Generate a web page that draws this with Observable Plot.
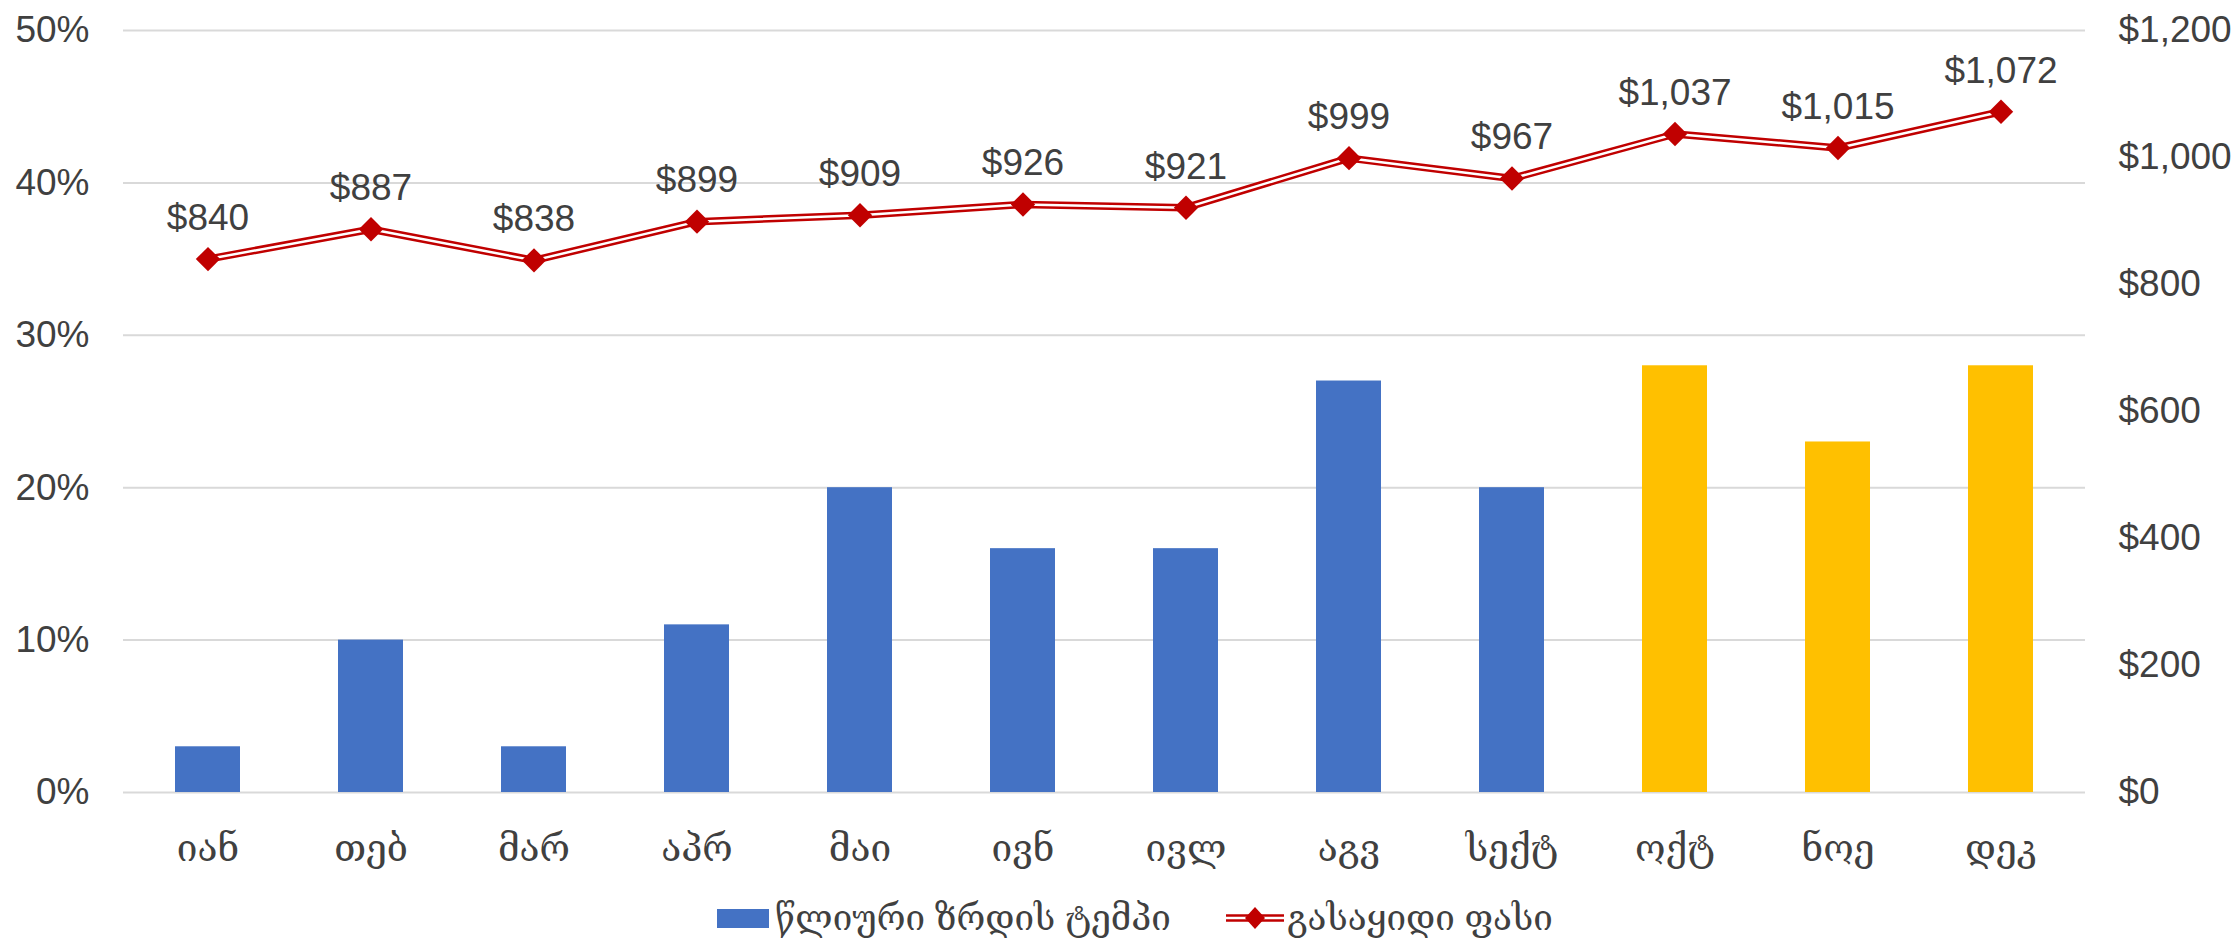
<!DOCTYPE html>
<html>
<head>
<meta charset="utf-8">
<script src="https://cdn.jsdelivr.net/npm/d3@7"></script>
<script src="https://cdn.jsdelivr.net/npm/@observablehq/plot@0.6"></script>
<style>
  html, body { margin: 0; padding: 0; background: #fff; }
  #wrap { position: relative; width: 2236px; height: 945px; font-family: "Liberation Sans", "DejaVu Serif", sans-serif; }
  #legend { position: absolute; left: 717px; top: 898px; display: flex; align-items: center; font-size: 35px; color: #404040; font-family: "Liberation Sans", "DejaVu Serif", sans-serif; }
  .item { display: flex; align-items: center; }
</style>
</head>
<body>
<div id="wrap">
  <div id="chart"></div>
  <div id="legend"></div>
</div>
<script>
const months = ["იან", "თებ", "მარ", "აპრ", "მაი", "ივნ", "ივლ", "აგვ", "სექტ", "ოქტ", "ნოე", "დეკ"];
const growth = [3, 10, 3, 11, 20, 16, 16, 27, 20, 28, 23, 28];           // %
const price = [840, 887, 838, 899, 909, 926, 921, 999, 967, 1037, 1015, 1072]; // $
const forecast = [false, false, false, false, false, false, false, false, false, true, true, true];
const leftTicks = [0, 10, 20, 30, 40, 50];
const rightTicks = [0, 200, 400, 600, 800, 1000, 1200];
const seriesNames = ["წლიური ზრდის ტემპი", "გასაყიდი ფასი"];

const PCT_MAX = 50, PRICE_MAX = 1200;
const toPct = v => v * PCT_MAX / PRICE_MAX;
const fmt$ = v => "$" + d3.format(",")(v);

const data = months.map((m, i) => ({ month: m, growth: growth[i], price: price[i], forecast: forecast[i] }));

const textColor = "#404040";
const FS = 37;
const chart = Plot.plot({
  width: 2236,
  height: 880,
  marginTop: 30,
  marginBottom: 88,
  marginLeft: 123,
  marginRight: 151,
  style: { fontFamily: "Liberation Sans, DejaVu Serif, sans-serif", fontSize: FS + "px", color: textColor, background: "#fff" },
  x: { domain: months, paddingInner: 0.6, paddingOuter: 0.3 },
  y: { domain: [0, PCT_MAX] },
  marks: [
    Plot.gridY(leftTicks, { stroke: "#d9d9d9", strokeOpacity: 1, strokeWidth: 2 }),
    Plot.barY(data, { x: "month", y: "growth", fill: d => d.forecast ? "#FFC000" : "#4472C4" }),
    Plot.axisY({ anchor: "left", ticks: leftTicks, tickFormat: d => d + "%", tickSize: 0, tickPadding: 34, fontSize: FS, label: null }),
    Plot.axisY({ anchor: "right", ticks: rightTicks.map(toPct), tickFormat: d => fmt$(Math.round(d * PRICE_MAX / PCT_MAX)), tickSize: 0, tickPadding: 33, fontSize: FS, label: null }),
    Plot.axisX({ tickSize: 0, tickPadding: 42, fontSize: FS, label: null }),
    Plot.line(data, { x: "month", y: d => toPct(d.price), stroke: "#C00000", strokeWidth: 7.5 }),
    Plot.line(data, { x: "month", y: d => toPct(d.price), stroke: "#fff", strokeWidth: 2.5 }),
    Plot.dot(data, { x: "month", y: d => toPct(d.price), symbol: "diamond2", r: 11, fill: "#C00000", stroke: "none" }),
    Plot.text(data, { x: "month", y: d => toPct(d.price), text: d => fmt$(d.price), dy: -41, fontSize: FS, fill: textColor })
  ]
});
document.getElementById("chart").appendChild(chart);

// Legend
const legend = document.getElementById("legend");
const item1 = document.createElement("div");
item1.className = "item";
item1.innerHTML = `<span style="display:inline-block;width:52px;height:19px;background:#4472C4;margin-right:6px"></span><span>${seriesNames[0]}</span>`;
const item2 = document.createElement("div");
item2.className = "item";
item2.style.marginLeft = "55px";
item2.innerHTML = `<svg width="58" height="26" style="margin-right:3px"><line x1="0" x2="58" y1="13" y2="13" stroke="#C00000" stroke-width="7.5"/><line x1="0" x2="58" y1="13" y2="13" stroke="#fff" stroke-width="2.5"/><path d="M29,2 L39,13 L29,24 L19,13 Z" fill="#C00000"/></svg><span>${seriesNames[1]}</span>`;
legend.appendChild(item1);
legend.appendChild(item2);
</script>
</body>
</html>
